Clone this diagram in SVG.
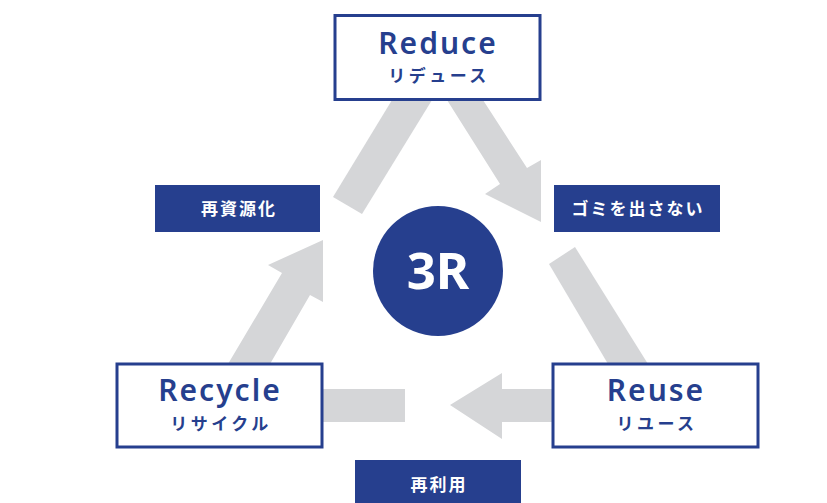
<svg xmlns="http://www.w3.org/2000/svg" width="827" height="503" viewBox="0 0 827 503">
<style>
.arrow{fill:#D5D6D8}
.box{fill:#fff;stroke:#263F8E;stroke-width:3}
.en{font-family:"Noto Sans","Liberation Sans",sans-serif;font-weight:600;font-size:30px;fill:#263F8E;letter-spacing:2px;text-anchor:middle}
.jp{font-family:"Noto Sans CJK JP","Noto Sans",sans-serif;font-weight:700;font-size:17px;fill:#263F8E;letter-spacing:3.5px;text-anchor:middle}
.lbl{fill:#263F8E}
.lt{font-family:"Noto Sans CJK JP","Noto Sans",sans-serif;font-weight:700;font-size:17px;fill:#fff;letter-spacing:2px;text-anchor:middle}
</style>
<rect width="827" height="503" fill="#fff"/>
<g id="connectors">
<polygon class="arrow" points="392,100 432,100 362,214 333,197"/>
<polygon class="arrow" points="447,100 483,100 527,168 541,160 541,222 485,194 500,184"/>
<polygon class="arrow" points="549,264 575,247 648,364 608,364"/>
<polygon class="arrow" points="552,389 502,389 502,373 450,405 502,439 502,422 552,422"/>
<rect class="arrow" x="323" y="389" width="82" height="33"/>
<polygon class="arrow" points="228,364 270,364 310,295 323,302 323,240 268,265 282,273"/>
</g>
<g id="reduce">
<rect class="box" x="335" y="15.5" width="205" height="84"/>
<text class="en" x="438" y="54">Reduce</text>
<text class="jp" x="439" y="82">リデュース</text>
</g>
<g id="reuse">
<rect class="box" x="553" y="364" width="205" height="83"/>
<text class="en" x="656" y="401">Reuse</text>
<text class="jp" x="657" y="430">リユース</text>
</g>
<g id="recycle">
<rect class="box" x="117" y="364" width="205" height="83"/>
<text class="en" x="220" y="401">Recycle</text>
<text class="jp" x="221" y="430">リサイクル</text>
</g>
<g id="center">
<circle cx="438" cy="271" r="65" fill="#263F8E"/>
<text x="438" y="289" font-family="'Noto Sans','Liberation Sans',sans-serif" font-weight="700" font-size="51" fill="#fff" text-anchor="middle">3R</text>
</g>
<g id="label-recycle">
<rect class="lbl" x="155" y="185" width="165" height="47"/>
<text class="lt" x="239" y="215">再資源化</text>
</g>
<g id="label-reduce">
<rect class="lbl" x="554" y="185" width="166" height="47"/>
<text class="lt" x="638" y="215">ゴミを出さない</text>
</g>
<g id="label-reuse">
<rect class="lbl" x="355" y="460" width="166" height="47"/>
<text class="lt" x="439" y="491">再利用</text>
</g>
</svg>
